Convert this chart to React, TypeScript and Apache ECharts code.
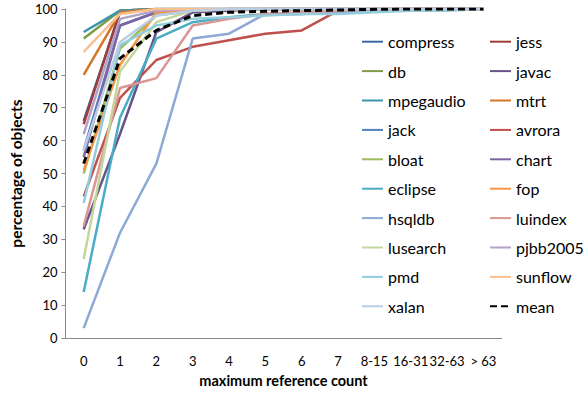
import React, { useEffect, useRef } from "react";
import * as echarts from "echarts";

const categories = ["0", "1", "2", "3", "4", "5", "6", "7", "8-15", "16-31", "32-63", "> 63"];

const compress = [66, 99, 100, 100, 100, 100, 100, 100, 100, 100, 100, 100];
const jess = [65, 99.5, 100, 100, 100, 100, 100, 100, 100, 100, 100, 100];
const db = [91, 99.5, 100, 100, 100, 100, 100, 100, 100, 100, 100, 100];
const javac = [33, 62, 93, 99, 99.5, 100, 100, 100, 100, 100, 100, 100];
const mpegaudio = [93, 99.5, 100, 100, 100, 100, 100, 100, 100, 100, 100, 100];
const mtrt = [80, 99, 100, 100, 100, 100, 100, 100, 100, 100, 100, 100];
const jack = [57, 95, 99, 99.5, 100, 100, 100, 100, 100, 100, 100, 100];
const avrora = [43, 73, 84.5, 88.5, 90.5, 92.5, 93.5, 99.5, 100, 100, 100, 100];
const bloat = [50, 88, 98, 99.5, 100, 100, 100, 100, 100, 100, 100, 100];
const chart = [55, 95, 99, 99.5, 100, 100, 100, 100, 100, 100, 100, 100];
const eclipse = [14, 67, 91, 96, 97.5, 98.5, 98.5, 99, 99.5, 99.5, 100, 100];
const fop = [51, 83, 99, 99.5, 100, 100, 100, 100, 100, 100, 100, 100];
const hsqldb = [3, 32, 53, 91, 92.5, 98.5, 98.5, 99, 99.5, 100, 100, 100];
const luindex = [34, 76, 79, 95, 97, 98.5, 99, 99.5, 100, 100, 100, 100];
const lusearch = [24, 81, 96, 99.5, 100, 100, 100, 100, 100, 100, 100, 100];
const pjbb2005 = [62, 97, 99.5, 100, 100, 100, 100, 100, 100, 100, 100, 100];
const pmd = [41, 89, 95, 97, 97.5, 98, 98.5, 98.5, 99, 99.5, 99.5, 100];
const sunflow = [87, 98.5, 100, 100, 100, 100, 100, 100, 100, 100, 100, 100];
const xalan = [57, 90, 98, 99.5, 100, 100, 100, 100, 100, 100, 100, 100];
const mean = [53, 85, 93.5, 98, 99, 99.3, 99.5, 99.7, 99.9, 100, 100, 100];

const seriesNames = [
  "compress", "jess", "db", "javac", "mpegaudio", "mtrt", "jack", "avrora", "bloat", "chart",
  "eclipse", "fop", "hsqldb", "luindex", "lusearch", "pjbb2005", "pmd", "sunflow", "xalan", "mean",
];
const seriesValues = [
  compress, jess, db, javac, mpegaudio, mtrt, jack, avrora, bloat, chart,
  eclipse, fop, hsqldb, luindex, lusearch, pjbb2005, pmd, sunflow, xalan, mean,
];
const seriesColors = [
  "#3D6A9E", "#A03D3A", "#7E9D45", "#67538A", "#3A95AD", "#D3762A", "#4F81BD", "#C0504D", "#9BBB59", "#8064A2",
  "#4BACC6", "#F79646", "#8DA9D6", "#D99694", "#C3D69B", "#B3A2C7", "#93CDDD", "#FAC090", "#B9CDE5", "#000000",
];

const FONT = "Lato, 'Liberation Sans', sans-serif";

export default function App() {
  const ref = useRef<HTMLDivElement>(null);
  useEffect(() => {
    if (!ref.current) return;
    const inst = echarts.init(ref.current, null, { renderer: "svg" });
    const col1 = seriesNames.filter((_, i) => i % 2 === 0);
    const col2 = seriesNames.filter((_, i) => i % 2 === 1);
    const legendCommon = {
      orient: "vertical" as const,
      top: 33.7,
      padding: 0,
      itemWidth: 21,
      itemHeight: 16,
      itemGap: 13.4,
      itemStyle: { opacity: 0 },
      textStyle: { fontFamily: FONT, fontSize: 16, color: "#000" },
    };
    inst.setOption({
      animation: false,
      backgroundColor: "#fff",
      grid: { left: 59.6, right: 82.4, top: 9, bottom: 51, containLabel: false },
      legend: [
        { ...legendCommon, left: 361, data: col1 },
        { ...legendCommon, left: 489, data: col2 },
      ],
      xAxis: {
        type: "category",
        data: categories,
        boundaryGap: true,
        axisLine: { show: true, lineStyle: { color: "#8a8a8a", width: 1 } },
        axisTick: { show: false },
        axisLabel: { fontFamily: FONT, fontSize: 13, color: "#000", margin: 16, interval: 0, hideOverlap: false },
        name: "maximum reference count",
        nameLocation: "middle",
        nameGap: 35,
        nameTextStyle: { fontFamily: FONT, fontSize: 14.5, fontWeight: "bold", color: "#000" },
      },
      yAxis: {
        type: "value",
        min: 0,
        max: 100,
        interval: 10,
        splitLine: { show: false },
        axisLine: { show: true, lineStyle: { color: "#8a8a8a", width: 1 } },
        axisTick: { show: true, inside: false, length: 4, lineStyle: { color: "#8a8a8a" } },
        axisLabel: { fontFamily: FONT, fontSize: 13, color: "#000", margin: 8 },
        name: "percentage of objects",
        nameLocation: "middle",
        nameGap: 41,
        nameTextStyle: { fontFamily: FONT, fontSize: 15.5, fontWeight: "bold", color: "#000" },
      },
      series: seriesNames.map((name, i) => ({
        name,
        type: "line",
        data: seriesValues[i],
        symbol: "none",
        smooth: false,
        color: seriesColors[i],
        lineStyle: {
          color: seriesColors[i],
          width: name === "mean" ? 3 : 2.5,
          type: name === "mean" ? [7, 4] : "solid",
        },
        z: name === "mean" ? 5 : 2,
      })),
    });
    return () => inst.dispose();
  }, []);
  return <div ref={ref} style={{ width: 584, height: 393, position: "absolute", left: 0, top: 0 }} />;
}
